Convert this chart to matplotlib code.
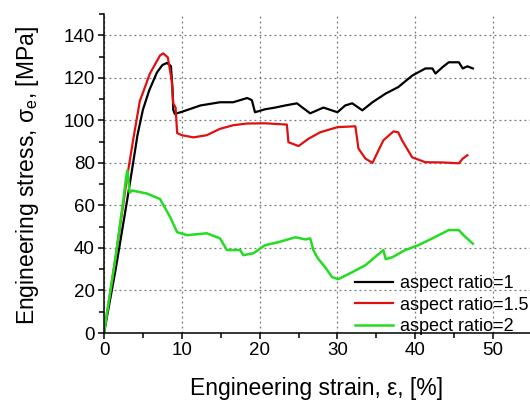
import matplotlib
matplotlib.use("Agg")
import matplotlib.pyplot as plt
from matplotlib.ticker import MultipleLocator

plt.rcParams['font.family'] = ['Liberation Sans', 'DejaVu Sans']
plt.rcParams['mathtext.fontset'] = 'custom'
plt.rcParams['mathtext.rm'] = 'Liberation Sans'
plt.rcParams['mathtext.it'] = 'Liberation Sans'

# aspect ratio = 1
strain_1 = [0, 1.5, 3.0, 3.7, 4.3, 5.0, 5.8, 6.8, 7.5, 8.1, 8.6, 8.8, 8.9, 9.1, 10.0,
            12.4, 14.9, 16.6, 18.4, 19.0, 19.4, 20.7, 22.0, 23.3, 24.8, 25.5, 26.5,
            28.2, 30.0, 31.0, 31.9, 33.2, 34.5, 36.2, 37.8, 39.6, 41.3, 42.2, 42.6,
            43.5, 44.3, 45.6, 46.1, 46.7, 47.4]
stress_1 = [0, 30, 63, 79, 93, 105, 114, 122.5, 126, 127, 125.5, 115, 105, 103, 104,
            107, 108.5, 108.5, 110.5, 109.5, 103.8, 105.2, 106, 107, 108, 106, 103.3,
            106, 103.8, 107, 108, 104.7, 108.5, 112.6, 115.6, 121, 124.4, 124.4, 122,
            125, 127.3, 127.3, 124.4, 125.4, 124.4]

# aspect ratio = 1.5
strain_15 = [0, 1.5, 3.0, 3.8, 4.6, 5.9, 7.2, 7.6, 8.2, 8.7, 8.9, 9.2, 9.4, 10.0,
             11.5, 13.2, 14.9, 16.6, 18.4, 20.7, 23.5, 23.7, 25.0, 26.3, 27.8, 30.0,
             32.3, 32.7, 33.6, 34.5, 35.9, 37.2, 37.8, 38.3, 39.6, 41.3, 43.5, 45.6,
             46.1, 46.7]
stress_15 = [0, 36, 74, 92, 109, 122, 130.5, 131.5, 129.6, 118.8, 108, 106, 94, 93,
             92, 93, 96, 97.7, 98.5, 98.6, 98, 89.7, 87.9, 91.4, 94.4, 96.8,
             97.2, 86.7, 82, 80, 90.6, 94.8, 94.4, 90.6, 82.6, 80.3, 80.2, 79.8,
             82, 83.6]

# aspect ratio = 2
strain_2 = [0, 1.5, 2.5, 2.8, 3.0, 3.3, 3.6, 5.5, 7.2, 8.5, 9.4, 10.7, 13.2, 14.9,
            15.8, 17.5, 17.9, 19.2, 20.7, 22.4, 24.6, 25.9, 26.5, 26.9, 27.5, 28.4,
            29.3, 30.1, 31.9, 33.6, 35.9, 36.2, 37.1, 38.7, 40.4, 42.2, 44.3, 45.6,
            46.2, 47.4]
stress_2 = [0, 36, 63, 72, 76.5, 66, 67, 65.6, 63, 54.5, 47.4, 46, 46.9, 44.5,
            39, 39, 36.6, 37.5, 41.3, 42.7, 45, 44, 44.5, 39, 35, 31,
            26.3, 25.3, 28.6, 31.9, 39, 34.7, 35.7, 39, 41.3, 44.5, 48.4, 48.4,
            46, 42]

labels = ['aspect ratio=1', 'aspect ratio=1.5', 'aspect ratio=2']
colors = ['black', '#e01010', '#22dd22']

fig = plt.figure(figsize=(5.3, 4.0), dpi=100)
# axis runs off the right edge, like the original figure
ax = fig.add_axes([104 / 530, 67 / 400, 428 / 530, 319 / 400])

ax.plot(strain_1, stress_1, color=colors[0], lw=1.6, label=labels[0])
ax.plot(strain_15, stress_15, color=colors[1], lw=1.6, label=labels[1])
ax.plot(strain_2, stress_2, color=colors[2], lw=1.8, label=labels[2])

ax.set_xlim(0, 55)
ax.set_ylim(0, 150)
ax.xaxis.set_major_locator(MultipleLocator(10))
ax.xaxis.set_minor_locator(MultipleLocator(5))
ax.yaxis.set_major_locator(MultipleLocator(20))
ax.yaxis.set_minor_locator(MultipleLocator(10))
ax.spines['top'].set_visible(False)
ax.spines['right'].set_visible(False)
for s in ['left', 'bottom']:
    ax.spines[s].set_linewidth(1.1)
ax.tick_params(which='major', direction='out', length=4.5, width=1.1,
               labelsize=13.5, pad=2)
ax.tick_params(which='minor', direction='out', length=3.5, width=1.1)
ax.grid(True, which='major', color='#777777', linestyle=(0, (1.5, 2.5)), lw=0.9)
ax.set_axisbelow(True)

fig.text(317 / 530, 1 - 395 / 400, r'Engineering strain, ε, [%]', fontsize=16.5,
         ha='center', va='baseline')
fig.text(28 / 530, 1 - 176 / 400, r'Engineering stress, σ$_\mathregular{e}$, [MPa]',
         fontsize=16.5, rotation=90, ha='center', va='center')

ax.legend(loc='upper left', bbox_to_anchor=(355 / 530, 1 - 275 / 400),
          bbox_transform=fig.transFigure, frameon=False, fontsize=13,
          handlelength=2.1, handletextpad=0.4, labelspacing=0.25,
          borderpad=0, borderaxespad=0)

fig.savefig('out.png', dpi=100)
